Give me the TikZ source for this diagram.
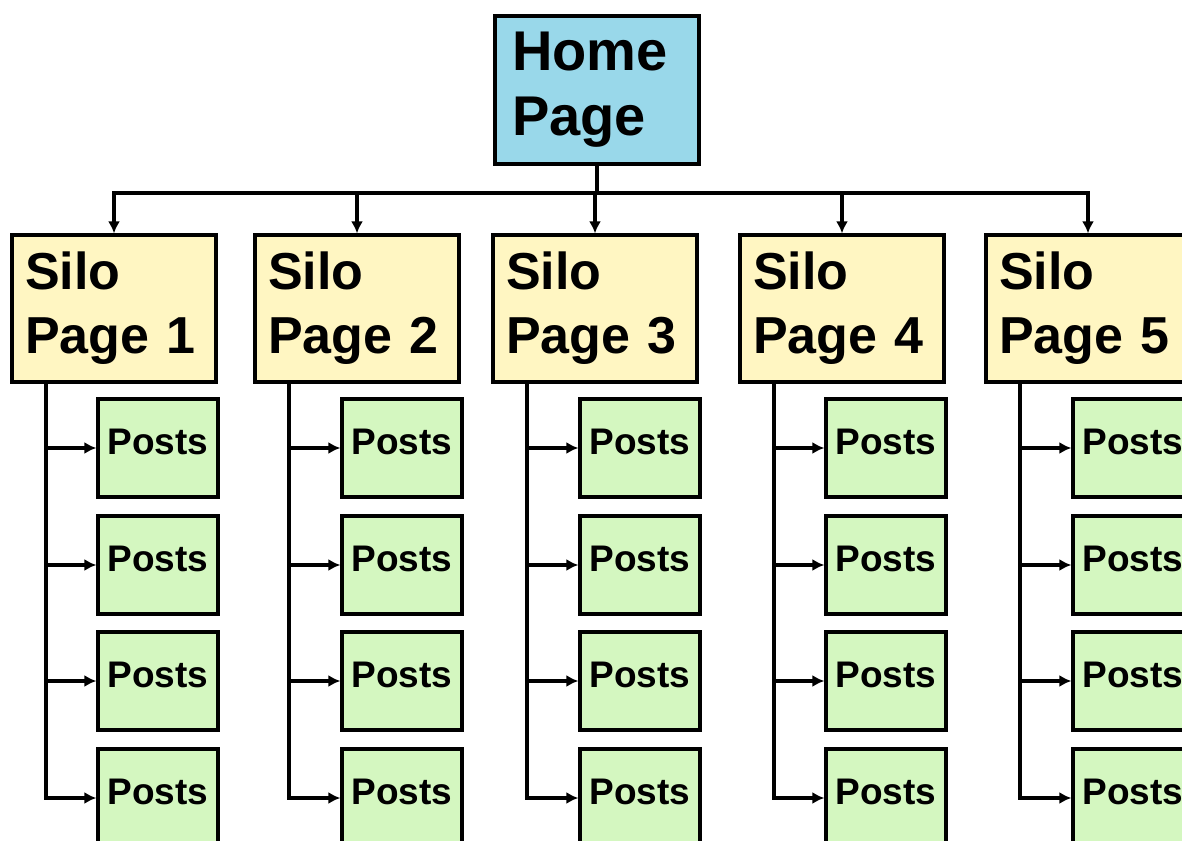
\documentclass[tikz,border=0pt]{standalone}
\usepackage{fontspec}
\setmainfont{Liberation Sans}
\usetikzlibrary{arrows.meta}
\definecolor{homeblue}{RGB}{153,216,234}
\definecolor{siloyellow}{RGB}{255,246,194}
\definecolor{postgreen}{RGB}{212,247,192}
\tikzset{%
	box/.style={draw,line width=2.4pt,inner sep=0pt},
	link/.style={line width=2.4pt},
	arr/.style={link,-{Latex[length=9pt,width=9pt]}}
}

\begin{document}
\begin{tikzpicture}[x=0.75pt,y=-0.75pt,
	homebox/.style={box,fill=homeblue,minimum width=153pt,minimum height=111pt,text width=127.5pt,align=left,font=\fontsize{42}{48.75}\selectfont\bfseries},
	silobox/.style={box,fill=siloyellow,minimum width=153pt,minimum height=110.25pt,text width=133.5pt,align=left,font=\fontsize{39}{48}\selectfont\bfseries},
	postbox/.style={box,fill=postgreen,minimum width=90pt,minimum height=73.5pt,text depth=9.4pt,font=\fontsize{27.75}{30}\selectfont\bfseries}]
				\path [use as bounding box, clip] (0,0) rectangle (1182,841);
				\node [homebox] (home) at (597,90) {Home\\Page};
				\coordinate (bus) at (0,193);
				\foreach \i/\sx/\px in {1/12/98,2/255/342,3/493/580,4/740/826,5/986/1073}{
					\node [silobox] (silo\i) at (\sx+102,308.5) {Silo\\Page \i};
					\coordinate (trunk\i) at (\sx+34,382);
					\foreach \j/\py in {1/448,2/565,3/681,4/798}
						\node [postbox] (post\i\j) at (\px+60,\py) {Posts};
				}
				\draw [link] (home.south) -- (home.south |- bus);
				\draw [link, line cap=rect] (silo1.north |- bus) -- (silo5.north |- bus);
				\foreach \i in {1,...,5}{
					\draw [arr] (silo\i.north |- bus) -- (silo\i.north);
					\foreach \j in {1,2,3}
						\draw [arr] (trunk\i |- post\i\j.west) -- (post\i\j.west);
					\draw [arr] (trunk\i) |- (post\i4.west);
				}
			\end{tikzpicture}
\end{document}
